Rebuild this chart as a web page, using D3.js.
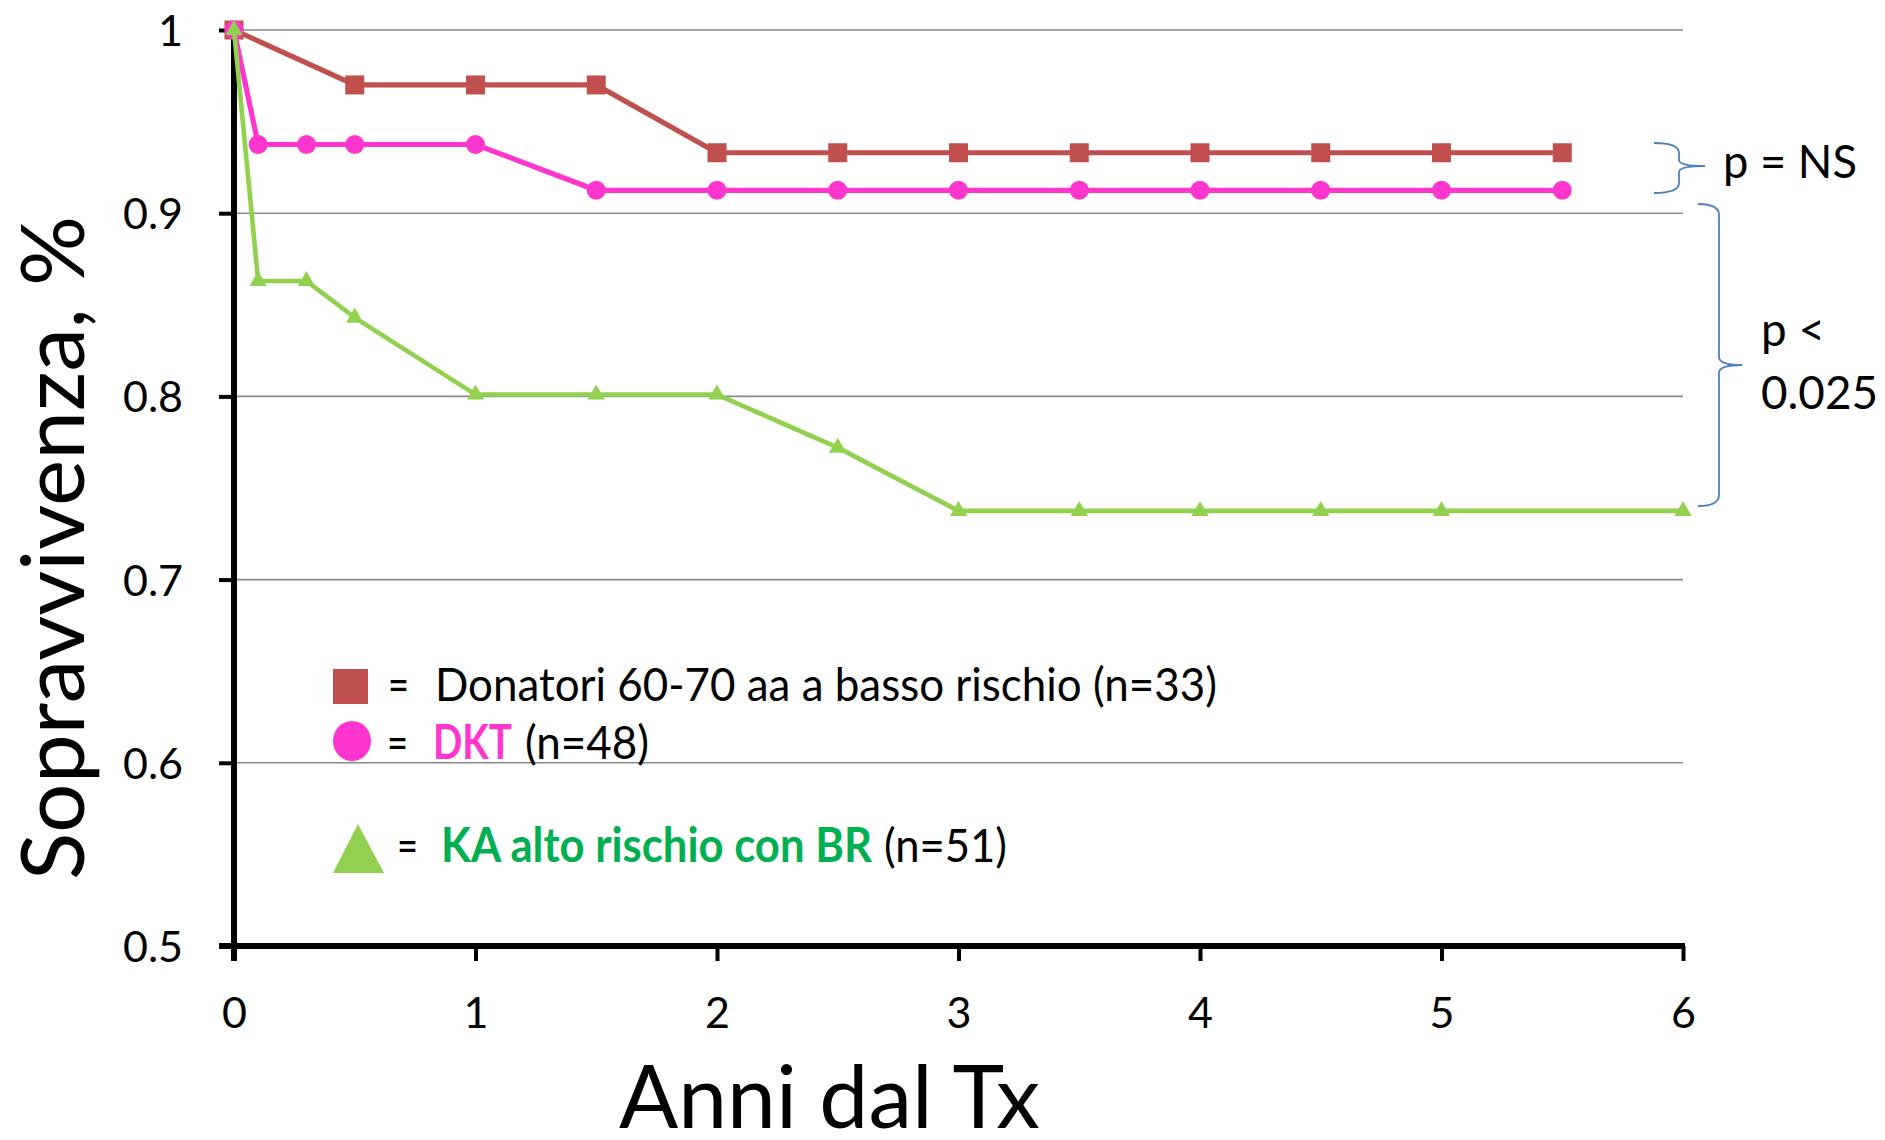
<!DOCTYPE html>
<html>
<head>
<meta charset="utf-8">
<script src="https://cdn.jsdelivr.net/npm/d3@7"></script>
<style>
  html, body { margin: 0; padding: 0; background: #ffffff; }
  svg { display: block; font-family: Lato, "Open Sans", sans-serif; }
</style>
</head>
<body>
<svg id="chart" width="1885" height="1140"></svg>
<script>
// Survival curves (Kaplan-Meier style) by donor group
const seriesNames = ["Donatori 60-70 aa a basso rischio", "DKT", "KA alto rischio con BR"];
const seriesN = [33, 48, 51];

const lowRiskYears  = [0, 0.5, 1, 1.5, 2, 2.5, 3, 3.5, 4, 4.5, 5, 5.5];
const lowRiskValues = [1, 0.97, 0.97, 0.97, 0.933, 0.933, 0.933, 0.933, 0.933, 0.933, 0.933, 0.933];

const dktYears  = [0, 0.1, 0.3, 0.5, 1, 1.5, 2, 2.5, 3, 3.5, 4, 4.5, 5, 5.5];
const dktValues = [1, 0.9375, 0.9375, 0.9375, 0.9375, 0.9125, 0.9125, 0.9125, 0.9125, 0.9125, 0.9125, 0.9125, 0.9125, 0.9125];

const highRiskYears  = [0, 0.1, 0.3, 0.5, 1, 1.5, 2, 2.5, 3, 3.5, 4, 4.5, 5, 6];
const highRiskValues = [1, 0.863, 0.863, 0.843, 0.801, 0.801, 0.801, 0.772, 0.7375, 0.7375, 0.7375, 0.7375, 0.7375, 0.7375];

const xTicks = [0, 1, 2, 3, 4, 5, 6];
const yTicks = [0.5, 0.6, 0.7, 0.8, 0.9, 1];
const yTickLabels = ["0.5", "0.6", "0.7", "0.8", "0.9", "1"];

const svg = d3.select("#chart");
const x = d3.scaleLinear().domain([0, 6]).range([234, 1683]);
const y = d3.scaleLinear().domain([0.5, 1]).range([946, 30]);

const colors = { red: "#C0504D", pink: "#FF36CE", green: "#92D050", blue: "#4F81BD" };

// horizontal gridlines
svg.append("g")
  .selectAll("line")
  .data(yTicks.filter(v => v > 0.5))
  .join("line")
  .attr("x1", x(0)).attr("x2", x(6))
  .attr("y1", d => y(d)).attr("y2", d => y(d))
  .attr("stroke", "#8a8a8a").attr("stroke-width", 1.6);

// y axis
const yAxis = svg.append("g")
  .attr("transform", `translate(${x(0)},0)`)
  .call(d3.axisLeft(y).tickValues(yTicks).tickSize(15).tickPadding(36)
    .tickFormat((d, i) => yTickLabels[i]));
yAxis.select(".domain").remove();
yAxis.selectAll(".tick line").attr("stroke", "#000").attr("stroke-width", 4);
yAxis.selectAll(".tick text")
  .attr("font-size", 43).attr("fill", "#000").attr("font-family", "Lato, sans-serif")
  .attr("dy", "0.36em");

// x axis
const xAxis = svg.append("g")
  .attr("transform", `translate(0,${y(0.5)})`)
  .call(d3.axisBottom(x).tickValues(xTicks).tickSize(15).tickPadding(36)
    .tickFormat(d3.format("d")));
xAxis.select(".domain").remove();
xAxis.selectAll(".tick line").attr("stroke", "#000").attr("stroke-width", 4);
xAxis.selectAll(".tick text")
  .attr("font-size", 43).attr("fill", "#000").attr("font-family", "Lato, sans-serif")
  .attr("dy", "0.71em");

// axis lines
svg.append("line")
  .attr("x1", x(0) - 15).attr("x2", x(6) + 2)
  .attr("y1", y(0.5)).attr("y2", y(0.5))
  .attr("stroke", "#000").attr("stroke-width", 6);
svg.append("line")
  .attr("x1", x(0)).attr("x2", x(0))
  .attr("y1", y(1) - 2).attr("y2", y(0.5) + 15)
  .attr("stroke", "#000").attr("stroke-width", 6);

const line = d3.line().x(d => x(d[0])).y(d => y(d[1]));
const zip = (a, b) => a.map((v, i) => [v, b[i]]);

const lowRisk = zip(lowRiskYears, lowRiskValues);
const dkt = zip(dktYears, dktValues);
const highRisk = zip(highRiskYears, highRiskValues);

// low-risk donors: squares
svg.append("path").datum(lowRisk).attr("d", line)
  .attr("fill", "none").attr("stroke", colors.red).attr("stroke-width", 5.2);
svg.append("g").selectAll("rect").data(lowRisk).join("rect")
  .attr("x", d => x(d[0]) - 9.5).attr("y", d => y(d[1]) - 9.5)
  .attr("width", 19).attr("height", 19).attr("fill", colors.red);

// DKT: circles
svg.append("path").datum(dkt).attr("d", line)
  .attr("fill", "none").attr("stroke", colors.pink).attr("stroke-width", 5.2);
svg.append("g").selectAll("circle").data(dkt).join("circle")
  .attr("cx", d => x(d[0])).attr("cy", d => y(d[1])).attr("r", 9.5)
  .attr("fill", colors.pink);

// high-risk kidneys: triangles
const tri = d3.symbol().type(d3.symbolTriangle).size(130);
svg.append("path").datum(highRisk).attr("d", line)
  .attr("fill", "none").attr("stroke", colors.green).attr("stroke-width", 4.6);
svg.append("g").selectAll("path").data(highRisk).join("path")
  .attr("transform", d => `translate(${x(d[0])},${y(d[1])})`)
  .attr("d", tri).attr("fill", colors.green);

// text helper with fixed advance width
function label(parent, txt, xPos, yPos, size, len, opts = {}) {
  const t = parent.append("text")
    .attr("x", xPos).attr("y", yPos)
    .attr("font-size", size)
    .attr("fill", opts.fill || "#000")
    .attr("font-weight", opts.weight || "normal")
    .text(txt);
  if (len) t.attr("textLength", len).attr("lengthAdjust", "spacingAndGlyphs");
  if (opts.anchor) t.attr("text-anchor", opts.anchor);
  return t;
}

// legend
const legend = svg.append("g");
legend.append("rect").attr("x", 333).attr("y", 669).attr("width", 35).attr("height", 35)
  .attr("fill", colors.red);
legend.append("ellipse").attr("cx", 352).attr("cy", 741).attr("rx", 19).attr("ry", 20)
  .attr("fill", colors.pink);
legend.append("path").attr("d", "M358,824 L384,873 L333,873 Z").attr("fill", colors.green);

label(legend, "=", 388, 701, 47, 21);
label(legend, `${seriesNames[0]} (n=${seriesN[0]})`, 435, 701, 47, 782);
label(legend, "=", 387, 759, 47, 21);
label(legend, seriesNames[1], 433, 759, 47, 79, { fill: colors.pink, weight: "bold" });
label(legend, `(n=${seriesN[1]})`, 525, 759, 47, 124);
label(legend, "=", 397, 862, 47, 21);
label(legend, seriesNames[2], 441, 862, 47, 431, { fill: "#00B050", weight: "bold" });
label(legend, `(n=${seriesN[2]})`, 884, 862, 47, 123);

// significance braces
const braces = svg.append("g").attr("fill", "none").attr("stroke", colors.blue).attr("stroke-width", 1.8);
braces.append("path")
  .attr("d", "M1654,143 Q1679,143 1679,153 L1679,160 Q1679,166 1705,166 Q1679,166 1679,172 L1679,183 Q1679,193 1654,193");
braces.append("path")
  .attr("d", "M1698,204 Q1719,204 1719,215 L1719,357 Q1719,365 1742,365 Q1719,365 1719,373 L1719,495 Q1719,506 1698,506");

label(svg, "p = NS", 1723, 178, 47, 134);
label(svg, "p <", 1761, 346, 47, 64);
label(svg, "0.025", 1761, 409, 47, 117);

// axis titles
label(svg, "Anni dal Tx", 619, 1128, 88, 421);
svg.append("text")
  .attr("transform", "translate(84,880) rotate(-90)")
  .attr("font-size", 88).attr("fill", "#000")
  .attr("textLength", 664).attr("lengthAdjust", "spacingAndGlyphs")
  .text("Sopravvivenza, %");
</script>
</body>
</html>
